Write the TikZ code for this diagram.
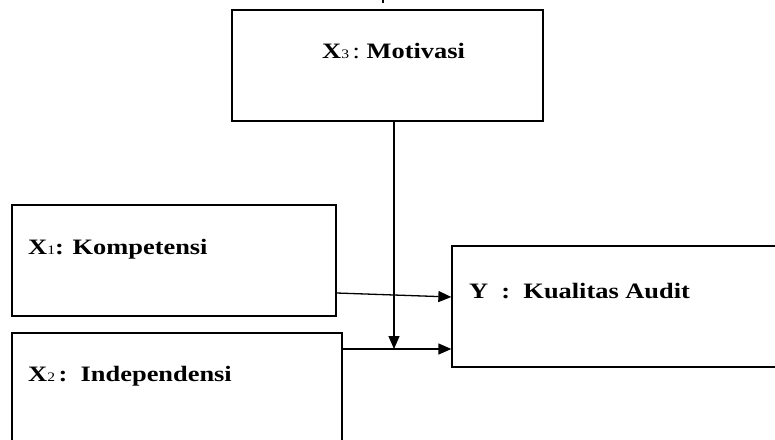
\documentclass[tikz,border=0pt]{standalone}
\usepackage{fontspec}
\setmainfont{Liberation Serif}[FakeStretch=1.2]
\usetikzlibrary{arrows.meta}
\newcommand{\lowdigit}[1]{{\fontsize{13}{13}\selectfont\mdseries #1}}
\begin{document}
\begin{tikzpicture}[x=1pt,y=-1pt,
  box/.style={draw,line width=1.3pt,rectangle,inner sep=0pt},
  lbl/.style={anchor=base west,inner sep=0pt,font=\fontsize{22}{26}\selectfont\bfseries},
  conn/.style={line width=1.3pt,-{Triangle[length=13pt,width=11pt]}}]
\useasboundingbox (0,0) rectangle (775,439);
\clip (0,0) rectangle (775,439);
% boxes
\node[box,minimum width=311pt,minimum height=111pt] (x3) at (387.5,65.5) {};
\node[box,minimum width=324pt,minimum height=111pt] (x1) at (174,260.5) {};
\node[box,minimum width=330pt,minimum height=137pt] (x2) at (177,401.5) {};
\node[box,minimum width=348pt,minimum height=121pt] (y) at (626,306.5) {};
% labels
\node[lbl] (t3) at (322,58.3) {X\lowdigit{3}\,{\mdseries :}\ Motivasi};
\node[lbl] (t1) at (28,254.3) {X\lowdigit{1}: Kompetensi};
\node[lbl] (t2) at (28,381.7) {X\lowdigit{2}\,:\ \ Independensi};
\node[lbl] (ty) at (469,298.7) {Y\ \ :\ \ Kualitas Audit};
% connectors
\coordinate (join) at (394,349);
\draw[conn] ([yshift=-32.5pt]x1.east) -- ([yshift=9.5pt]y.west);
\draw[conn] ([yshift=52.5pt]x2.east) -- ([yshift=-42.5pt]y.west);
\draw[conn] ([xshift=6.5pt]x3.south) -- (join);
% small tick at top
\coordinate (tickA) at (383,0);
\coordinate (tickB) at (383,3);
\draw[line width=1.2pt] (tickA) -- (tickB);
\end{tikzpicture}
\end{document}
